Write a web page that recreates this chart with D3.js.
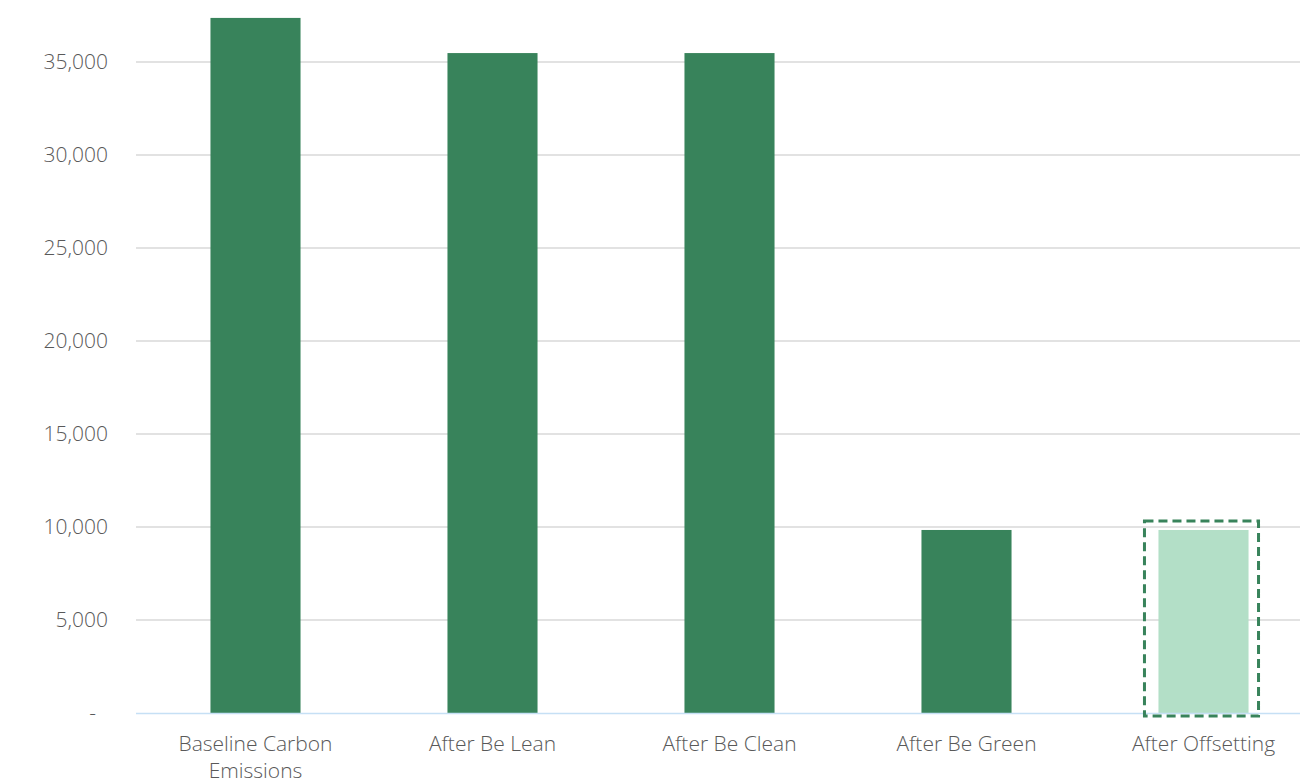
<!DOCTYPE html>
<html>
<head>
<meta charset="utf-8">
<script src="https://cdn.jsdelivr.net/npm/d3@7"></script>
<style>
  body { margin: 0; background: #fff; }
  text { font-family: "Open Sans", sans-serif; fill: #595959; }
</style>
</head>
<body>
<div id="chart"></div>
<script>
// ---- Data -------------------------------------------------------------
const categories = [
  ['Baseline Carbon', 'Emissions'],
  ['After Be Lean'],
  ['After Be Clean'],
  ['After Be Green'],
  ['After Offsetting']
];
const values = [37370, 35480, 35480, 9840, 9840];
const offsetFlags = [false, false, false, false, true];
const yTicks = [0, 5000, 10000, 15000, 20000, 25000, 30000, 35000];

// ---- Dimensions -------------------------------------------------------
const width = 1300, height = 783;
const plot = { left: 136, right: 1321, top: 0, bottom: 713 };

const svg = d3.select('#chart').append('svg')
  .attr('width', width).attr('height', height);

// ---- Scales -----------------------------------------------------------
const x = d3.scaleBand()
  .domain(d3.range(values.length))
  .range([plot.left + 1, plot.right + 1])
  .paddingInner(0.62).paddingOuter(0.31);

const y = d3.scaleLinear()
  .domain([0, 38333])
  .range([plot.bottom, plot.bottom - 38333 / 5000 * 93]);

// ---- Grid -------------------------------------------------------------
svg.append('g').selectAll('line')
  .data(yTicks.filter(d => d > 0))
  .join('line')
  .attr('x1', plot.left).attr('x2', width)
  .attr('y1', d => y(d)).attr('y2', d => y(d))
  .attr('stroke', '#d9d9d9').attr('stroke-width', 1.5);

// ---- Y axis labels ----------------------------------------------------
const fmt = d3.format(',');
svg.append('g').selectAll('text')
  .data(yTicks)
  .join('text')
  .attr('x', d => d === 0 ? 96 : 108)
  .attr('y', d => y(d))
  .attr('dy', '0.35em')
  .attr('text-anchor', 'end')
  .style('font-size', '21px')
  .style('font-weight', 300)
  .text(d => d === 0 ? '-' : fmt(d));

// ---- Bars -------------------------------------------------------------
svg.append('g').selectAll('rect')
  .data(values)
  .join('rect')
  .attr('x', (d, i) => x(i))
  .attr('width', x.bandwidth())
  .attr('y', d => y(d))
  .attr('height', d => y(0) - y(d))
  .attr('fill', (d, i) => offsetFlags[i] ? '#b3dfc7' : '#38835b');

// ---- X axis -----------------------------------------------------------
svg.append('line')
  .attr('x1', plot.left).attr('x2', width)
  .attr('y1', y(0) + 0.5).attr('y2', y(0) + 0.5)
  .attr('stroke', '#c6e0f5').attr('stroke-width', 1.5);

// dashed box around offset bar
values.forEach((v, i) => {
  if (!offsetFlags[i]) return;
  svg.append('rect')
    .attr('x', x(i) - 14)
    .attr('width', x.bandwidth() + 24)
    .attr('y', y(v) - 9)
    .attr('height', y(0) - y(v) + 12)
    .attr('fill', 'none')
    .attr('stroke', '#38835b')
    .attr('stroke-width', 3)
    .attr('stroke-dasharray', '9,5');
});

const xl = svg.append('g').selectAll('text')
  .data(categories)
  .join('text')
  .attr('x', (d, i) => x(i) + x.bandwidth() / 2)
  .attr('y', 751)
  .attr('text-anchor', 'middle')
  .style('font-size', '21px')
  .style('font-weight', 300);
xl.selectAll('tspan')
  .data(d => d)
  .join('tspan')
  .attr('x', function() { return this.parentNode.getAttribute('x'); })
  .attr('dy', (d, i) => i === 0 ? 0 : 27)
  .text(d => d);
</script>
</body>
</html>
